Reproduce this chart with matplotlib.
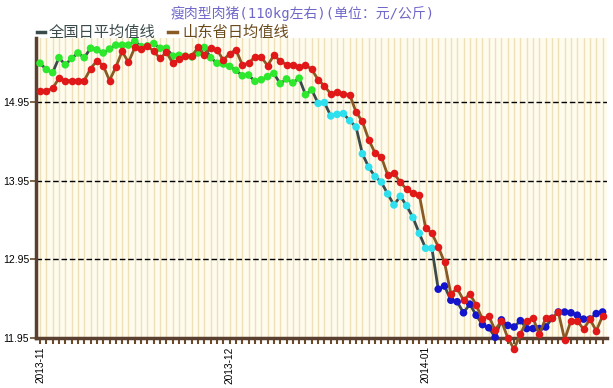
import matplotlib
matplotlib.use("Agg")
import matplotlib.pyplot as plt
import numpy as np

plt.rcParams['font.family'] = ['Noto Sans CJK SC', 'DejaVu Sans']

# ---- data ----
national = [15.44, 15.36, 15.32, 15.51, 15.42, 15.50, 15.57, 15.51, 15.63, 15.61,
            15.57, 15.62, 15.67, 15.67, 15.67, 15.72, 15.65, 15.66, 15.69, 15.63,
            15.63, 15.53, 15.54, 15.53, 15.52, 15.57, 15.64, 15.51, 15.44, 15.43,
            15.40, 15.35, 15.28, 15.29, 15.21, 15.23, 15.27, 15.31, 15.18, 15.24,
            15.19, 15.25, 15.04, 15.10, 14.93, 14.94, 14.77, 14.79, 14.80, 14.71,
            14.63, 14.29, 14.12, 14.00, 13.93, 13.78, 13.64, 13.75, 13.63, 13.48,
            13.28, 13.09, 13.09, 12.57, 12.61, 12.43, 12.41, 12.27, 12.38, 12.24,
            12.12, 12.08, 11.96, 12.18, 12.11, 12.09, 12.17, 12.07, 12.07, 12.07,
            12.09, 12.20, 12.28, 12.28, 12.27, 12.24, 12.19, 12.19, 12.26, 12.28]
shandong = [15.09, 15.09, 15.12, 15.25, 15.22, 15.22, 15.22, 15.22, 15.37, 15.47,
            15.41, 15.22, 15.39, 15.59, 15.45, 15.64, 15.62, 15.66, 15.59, 15.50,
            15.58, 15.44, 15.49, 15.53, 15.53, 15.64, 15.55, 15.63, 15.61, 15.48,
            15.56, 15.61, 15.42, 15.44, 15.52, 15.52, 15.41, 15.54, 15.47, 15.42,
            15.42, 15.39, 15.42, 15.36, 15.23, 15.15, 15.05, 15.07, 15.05, 15.04,
            14.82, 14.70, 14.47, 14.30, 14.25, 14.02, 14.04, 13.93, 13.84, 13.79,
            13.77, 13.35, 13.28, 13.11, 12.91, 12.51, 12.58, 12.43, 12.51, 12.37,
            12.19, 12.23, 12.05, 12.17, 11.95, 11.81, 12.00, 12.17, 12.20, 12.00,
            12.20, 12.20, 12.28, 11.93, 12.17, 12.17, 12.06, 12.19, 12.04, 12.23]
y_ticks = [11.95, 12.95, 13.95, 14.95]
x_tick_pos = [0, 30, 61]
x_tick_labels = ['2013-11', '2013-12', '2014-01']
title = '瘦肉型肉猪(110kg左右)(单位：元/公斤)'
legend_labels = ['全国日平均值线', '山东省日均值线']

x = np.arange(len(national))

fig = plt.figure(figsize=(6.13, 3.88), dpi=100)
ax = fig.add_axes([36/613, 50/388, 571/613, 300/388])
ax.set_facecolor('#fffcee')

# vertical day grid
for xi in x:
    ax.axvline(xi, color='#eee0b8', lw=1.0, zorder=0)
# horizontal dashed lines
for yt in y_ticks[1:]:
    ax.axhline(yt, color='black', lw=1.0, ls=(0, (4, 2)), zorder=1)

nat_line = '#3b4a4a'
sd_line = '#8a5a24'

def nat_color(v):
    if v >= 14.95:
        return '#2ee82e'
    if v >= 12.95:
        return '#2ee0ee'
    return '#1414cc'

ax.plot(x, national, color=nat_line, lw=2.0, zorder=2, clip_on=False)
ax.scatter(x, national, s=30, c=[nat_color(v) for v in national], zorder=3,
           linewidths=0, clip_on=False)
ax.plot(x, shandong, color=sd_line, lw=2.0, zorder=4, clip_on=False)
ax.scatter(x, shandong, s=30, c='#e01818', zorder=5, linewidths=0, clip_on=False)

ax.set_xlim(-0.63, 89.7)
ax.set_ylim(11.95, 15.76)

ax.set_yticks(y_ticks)
ax.set_yticklabels(['%.2f' % v for v in y_ticks], fontsize=7.5,
                   family='Liberation Sans')
ax.set_xticks(x_tick_pos)
ax.set_xticklabels(x_tick_labels, rotation=90, fontsize=7.3,
                   family='Liberation Sans')
ax.set_xticks(x, minor=True)
ax.tick_params(axis='x', which='both', direction='out', length=4, width=1.5,
               color='#6b4a2a', pad=2)
ax.tick_params(axis='y', direction='out', length=4, width=1.2,
               color='#6b4a2a', pad=1)

for s in ['top', 'right']:
    ax.spines[s].set_visible(False)
ax.spines['left'].set_color('#5a4030')
ax.spines['left'].set_linewidth(2.5)
ax.spines['bottom'].set_color('#5a4030')
ax.spines['bottom'].set_linewidth(2.5)

# title
fig.text(303/613, 1 - 13/388, title, ha='center', va='center', fontsize=10,
         color='#7068c8', family=['DejaVu Sans Mono', 'Noto Sans CJK SC'])
# legend
fig.lines.append(plt.Line2D([37/613, 45/613], [1 - 32/388, 1 - 32/388],
                            color=nat_line, lw=2.5, transform=fig.transFigure))
fig.text(49/613, 1 - 32/388, legend_labels[0], ha='left', va='center',
         fontsize=11, color='#3b4a4a')
fig.lines.append(plt.Line2D([168/613, 177/613], [1 - 32/388, 1 - 32/388],
                            color=sd_line, lw=2.5, transform=fig.transFigure))
fig.text(182/613, 1 - 32/388, legend_labels[1], ha='left', va='center',
         fontsize=11, color='#6a4a1a')

fig.savefig('out.png', dpi=100, facecolor='white')
